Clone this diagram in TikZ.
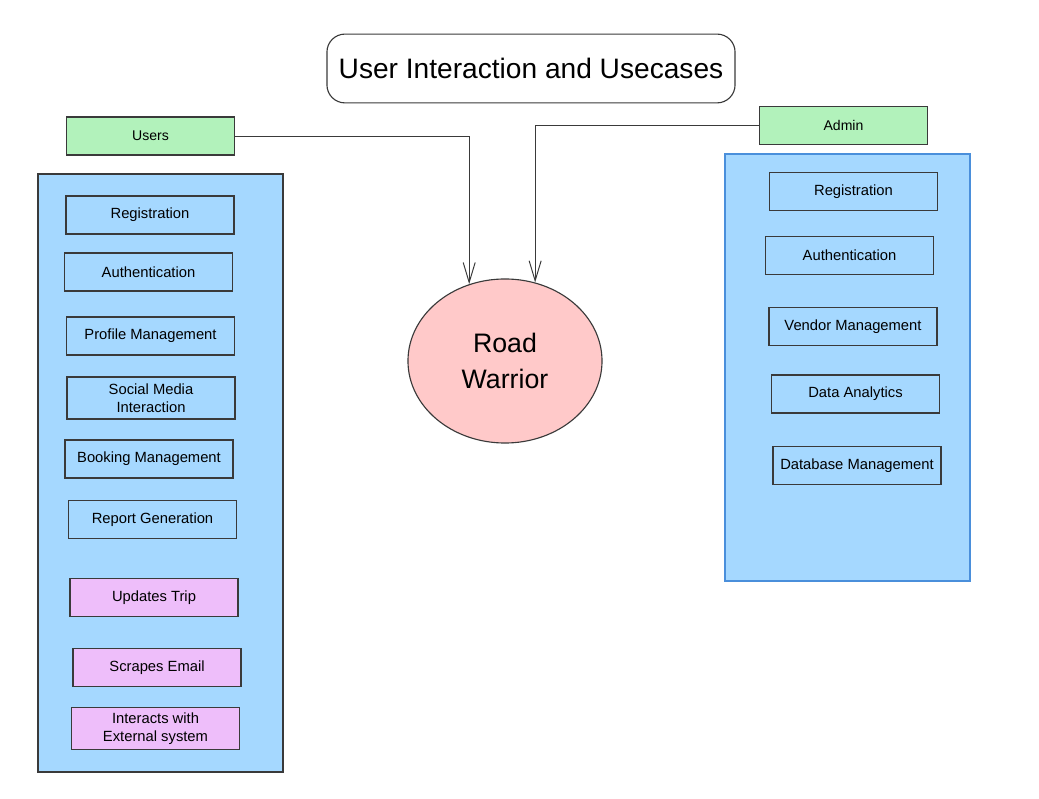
\documentclass[tikz,border=0pt]{standalone}
\usepackage{fontspec}
\setmainfont{Liberation Sans}
\usepackage{xcolor}
\usetikzlibrary{arrows.meta,shapes.geometric}

\definecolor{panelblue}{HTML}{A5D8FF}
\definecolor{panelline}{HTML}{4A8FDB}
\definecolor{rolegreen}{HTML}{B2F2BB}
\definecolor{corepink}{HTML}{FFC9C9}
\definecolor{extpurple}{HTML}{EEBEFA}
\definecolor{inkgray}{HTML}{3A3A3A}

\begin{document}
\begin{tikzpicture}[x=0.025cm,y=-0.025cm,
    case/.style={draw=inkgray,line width=0.8pt,minimum width=4.2cm,minimum height=0.95cm,
        inner sep=1pt,align=center,font=\fontsize{10.5}{12.5}\selectfont},
    extcase/.style={case,fill=extpurple},
    role/.style={draw=inkgray,line width=0.8pt,fill=rolegreen,minimum width=4.2cm,
        minimum height=0.95cm,font=\fontsize{10}{12}\selectfont},
    conn/.style={draw=inkgray,line width=0.7pt,-{Straight Barb[length=5mm,width=3mm]}}]
    \useasboundingbox (0,0) rectangle (1039,799);

    % title
    \node[draw=inkgray,line width=0.8pt,rounded corners=0.45cm,minimum width=10.2cm,
        minimum height=1.72cm,font=\fontsize{20}{24}\selectfont] (title) at (531,68.5)
        {User Interaction and Usecases};

    % panels
    \draw[inkgray,line width=0.8pt,fill=panelblue] (38,174) rectangle (283,772);
    \draw[panelline,line width=0.9pt,fill=panelblue] (725,154) rectangle (970,581);

    % roles
    \node[role] (users) at (150.5,136) {Users};
    \node[role] (admin) at (843.5,125.5) {Admin};

    % core system
    \node[draw=inkgray,line width=0.8pt,fill=corepink,ellipse,minimum width=4.85cm,
        minimum height=4.1cm,align=center,font=\fontsize{19}{26}\selectfont] (rw) at (505,361)
        {Road\\Warrior};

    % user use cases
    \node[case] (ureg) at (150,215) {Registration};
    \node[case] (uauth) at (148.5,272) {Authentication};
    \node[case] (uprof) at (150.5,336) {Profile Management};
    \node[case,minimum height=1.05cm] (usoc) at (151,398) {Social Media\\Interaction};
    \node[case] (ubook) at (149,459) {Booking Management};
    \node[case] (urep) at (152.5,519.5) {Report Generation};
    \node[extcase] (utrip) at (154,597.5) {Updates Trip};
    \node[extcase] (umail) at (157,667.5) {Scrapes Email};
    \node[extcase,minimum height=1.07cm] (uext) at (155.5,728.5) {Interacts with\\External system};

    % admin use cases
    \node[case] (areg) at (853.5,191.5) {Registration};
    \node[case] (aauth) at (849.5,255.5) {Authentication};
    \node[case] (avend) at (853,326.5) {Vendor Management};
    \node[case] (adata) at (855.5,394) {Data Analytics};
    \node[case] (adb) at (857,465.5) {Database Management};

    \draw[conn] (users.east) -| (rw.115);
    \draw[conn] (admin.west) -| (rw.69);
\end{tikzpicture}
\end{document}
